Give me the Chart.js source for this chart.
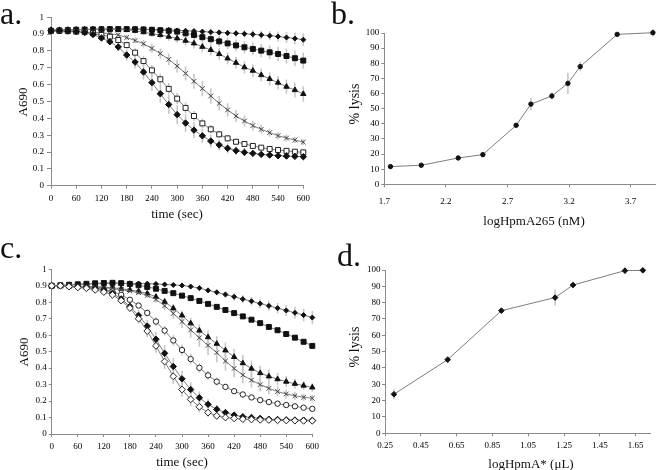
<!DOCTYPE html>
<html><head><meta charset="utf-8">
<script src="https://cdn.jsdelivr.net/npm/chart.js@4/dist/chart.umd.min.js"></script>
<style>
html,body{margin:0;padding:0;background:#fff;overflow:hidden;}
#wrap{position:relative;width:656px;height:470px;overflow:hidden;background:#fff;}
canvas{position:absolute;}
.lbl{position:absolute;font-family:"Liberation Serif","Times New Roman",serif;color:#111;white-space:nowrap;line-height:1;}
.panel{font-size:32px;}
.ttl{font-size:13px;transform:translate(-50%,-50%);}
.ttl.v{transform:translate(-50%,-50%) rotate(-90deg);}
.ttl.big{font-size:14px;}
</style></head>
<body><div id="wrap">
<canvas id="ca" style="left:0;top:0" width="330" height="235"></canvas>
<canvas id="cb" style="left:330px;top:0" width="360" height="235"></canvas>
<canvas id="cc" style="left:0;top:235px" width="330" height="235"></canvas>
<canvas id="cd" style="left:330px;top:235px" width="326" height="235"></canvas>
<div class="lbl panel" style="left:0;top:-3.5px">a.</div>
<div class="lbl panel" style="left:331px;top:-2.8px">b.</div>
<div class="lbl panel" style="left:0;top:231px">c.</div>
<div class="lbl panel" style="left:337px;top:239px">d.</div>
<div class="lbl ttl v" style="left:22px;top:102px">A690</div>
<div class="lbl ttl" style="left:177px;top:213px">time (sec)</div>
<div class="lbl ttl v big" style="left:355px;top:104px">% lysis</div>
<div class="lbl ttl" style="left:534px;top:220px">logHpmA265 (nM)</div>
<div class="lbl ttl v" style="left:23px;top:352px">A690</div>
<div class="lbl ttl" style="left:182px;top:461px">time (sec)</div>
<div class="lbl ttl v big" style="left:355px;top:347px">% lysis</div>
<div class="lbl ttl" style="left:531px;top:463px">logHpmA* (μL)</div>
</div>
<script>
// ---------- shared axis data ----------
const time = [0,20,40,60,80,100,120,140,160,180,200,220,240,260,280,300,320,340,360,380,400,420,440,460,480,500,520,540,560,580,600];
const timeTicks = [0,60,120,180,240,300,360,420,480,540,600];
const timeTickLabels = ['0','60','120','180','240','300','360','420','480','540','600'];
const a690Ticks = [0,0.1,0.2,0.3,0.4,0.5,0.6,0.7,0.8,0.9,1];
const a690TickLabels = ['0','0.1','0.2','0.3','0.4','0.5','0.6','0.7','0.8','0.9','1'];
const lysisTicks = [0,10,20,30,40,50,60,70,80,90,100];
const lysisTickLabels = ['0','10','20','30','40','50','60','70','80','90','100'];

// ---------- panel a ----------
const aSmallDiamond = [0.925,0.925,0.925,0.927,0.928,0.929,0.93,0.93,0.93,0.93,0.93,0.929,0.928,0.927,0.925,0.922,0.92,0.918,0.915,0.912,0.91,0.907,0.905,0.902,0.899,0.895,0.891,0.886,0.88,0.874,0.867];
const aSquare = [0.92,0.922,0.924,0.926,0.927,0.928,0.929,0.93,0.93,0.93,0.929,0.928,0.926,0.923,0.92,0.915,0.905,0.895,0.882,0.87,0.857,0.845,0.833,0.822,0.812,0.802,0.792,0.782,0.77,0.757,0.743];
const aTriangle = [0.925,0.925,0.926,0.927,0.928,0.929,0.93,0.93,0.928,0.925,0.92,0.912,0.903,0.895,0.885,0.875,0.861,0.845,0.825,0.806,0.782,0.756,0.73,0.703,0.683,0.657,0.634,0.612,0.588,0.568,0.545];
const aCross = [0.915,0.915,0.914,0.913,0.912,0.91,0.908,0.903,0.895,0.88,0.862,0.843,0.815,0.785,0.75,0.71,0.667,0.62,0.577,0.533,0.489,0.45,0.414,0.384,0.357,0.335,0.315,0.297,0.283,0.271,0.259];
const aOpenSquare = [0.92,0.92,0.918,0.915,0.912,0.905,0.895,0.885,0.865,0.835,0.79,0.74,0.685,0.632,0.575,0.517,0.462,0.414,0.37,0.335,0.305,0.281,0.261,0.248,0.236,0.226,0.218,0.212,0.207,0.202,0.198];
const aDiamond = [0.92,0.92,0.918,0.915,0.91,0.898,0.877,0.855,0.824,0.776,0.734,0.675,0.612,0.546,0.482,0.422,0.372,0.33,0.296,0.265,0.242,0.222,0.208,0.198,0.192,0.186,0.182,0.178,0.176,0.174,0.172];
const aSmallDiamondErr = [0.008,0.008,0.008,0.008,0.008,0.008,0.008,0.008,0.008,0.008,0.008,0.008,0.008,0.008,0.009,0.01,0.011,0.012,0.014,0.016,0.018,0.02,0.02,0.022,0.024,0.025,0.027,0.03,0.032,0.035,0.038];
const aSquareErr = [0.01,0.01,0.01,0.01,0.01,0.012,0.012,0.012,0.013,0.013,0.014,0.015,0.016,0.018,0.02,0.022,0.024,0.026,0.028,0.03,0.032,0.034,0.035,0.036,0.038,0.04,0.041,0.042,0.044,0.046,0.048];
const aTriangleErr = [0.01,0.01,0.01,0.01,0.01,0.012,0.012,0.013,0.014,0.015,0.016,0.018,0.02,0.022,0.024,0.026,0.028,0.03,0.032,0.033,0.034,0.035,0.036,0.036,0.037,0.038,0.039,0.04,0.042,0.044,0.046];
const aCrossErr = [0.008,0.008,0.008,0.008,0.008,0.009,0.01,0.012,0.014,0.016,0.018,0.022,0.026,0.03,0.034,0.038,0.042,0.045,0.046,0.045,0.043,0.04,0.036,0.032,0.029,0.026,0.024,0.022,0.02,0.018,0.017];
const aOpenSquareErr = [0.008,0.008,0.008,0.008,0.008,0.01,0.012,0.014,0.018,0.022,0.026,0.03,0.032,0.034,0.035,0.034,0.032,0.03,0.028,0.025,0.022,0.02,0.018,0.016,0.015,0.014,0.013,0.012,0.012,0.011,0.011];
const aDiamondErr = [0.008,0.008,0.008,0.008,0.01,0.012,0.015,0.02,0.026,0.032,0.038,0.044,0.05,0.054,0.056,0.055,0.052,0.048,0.043,0.038,0.033,0.029,0.025,0.022,0.02,0.018,0.016,0.015,0.014,0.013,0.012];

// ---------- panel b ----------
const bLogConc = [1.75,2.0,2.3,2.5,2.77,2.89,3.06,3.19,3.29,3.59,3.88];
const bLysis = [11.7,12.6,17.4,19.6,39.0,53.0,58.4,66.7,77.8,99.1,100.2];
const bLysisErr = [1.0,1.0,0.8,0.8,1.0,4.0,2.5,7.0,3.0,0.8,2.5];
const bTicks = [1.7,2.2,2.7,3.2,3.7];
const bTickLabels = ['1.7','2.2','2.7','3.2','3.7'];

// ---------- panel c ----------
const cSmallDiamond = [0.9,0.902,0.905,0.908,0.91,0.912,0.914,0.915,0.915,0.915,0.914,0.913,0.911,0.908,0.905,0.902,0.895,0.886,0.872,0.86,0.847,0.833,0.819,0.806,0.792,0.778,0.764,0.75,0.736,0.722,0.707];
const cSquare = [0.9,0.903,0.906,0.909,0.912,0.915,0.917,0.918,0.916,0.911,0.903,0.893,0.882,0.869,0.855,0.84,0.825,0.808,0.79,0.772,0.753,0.734,0.714,0.694,0.673,0.65,0.63,0.607,0.585,0.56,0.535];
const cTriangle = [0.9,0.899,0.898,0.897,0.896,0.895,0.892,0.888,0.882,0.875,0.866,0.853,0.833,0.803,0.763,0.72,0.672,0.628,0.588,0.548,0.508,0.468,0.43,0.397,0.37,0.35,0.333,0.318,0.305,0.294,0.283];
const cCross = [0.9,0.899,0.898,0.896,0.894,0.892,0.888,0.883,0.876,0.868,0.858,0.842,0.817,0.778,0.732,0.683,0.632,0.584,0.538,0.494,0.443,0.398,0.358,0.327,0.3,0.277,0.258,0.243,0.232,0.223,0.217];
const cOpenCircle = [0.9,0.9,0.897,0.894,0.89,0.885,0.877,0.865,0.845,0.815,0.78,0.735,0.683,0.628,0.568,0.51,0.455,0.402,0.356,0.318,0.286,0.26,0.24,0.222,0.206,0.194,0.184,0.176,0.168,0.16,0.153];
const cDiamond = [0.9,0.9,0.895,0.893,0.89,0.885,0.875,0.855,0.82,0.775,0.72,0.655,0.575,0.49,0.41,0.335,0.27,0.22,0.18,0.15,0.13,0.115,0.105,0.1,0.095,0.09,0.088,0.086,0.085,0.084,0.083];
const cOpenDiamond = [0.9,0.9,0.895,0.89,0.885,0.875,0.862,0.845,0.81,0.765,0.7,0.625,0.535,0.44,0.35,0.27,0.21,0.165,0.13,0.11,0.1,0.095,0.09,0.088,0.086,0.085,0.083,0.082,0.081,0.08,0.08];
const cSmallDiamondErr = [0.005,0.005,0.005,0.005,0.005,0.005,0.005,0.005,0.006,0.006,0.007,0.008,0.009,0.01,0.011,0.012,0.013,0.014,0.016,0.018,0.02,0.022,0.024,0.026,0.028,0.03,0.032,0.034,0.036,0.038,0.04];
const cSquareErr = [0.004,0.004,0.004,0.004,0.004,0.005,0.005,0.005,0.006,0.006,0.007,0.007,0.008,0.008,0.009,0.009,0.01,0.01,0.011,0.011,0.012,0.012,0.012,0.013,0.013,0.013,0.014,0.014,0.015,0.015,0.016];
const cTriangleErr = [0.005,0.005,0.005,0.005,0.005,0.006,0.006,0.007,0.008,0.01,0.012,0.015,0.018,0.022,0.026,0.03,0.034,0.038,0.042,0.046,0.048,0.05,0.05,0.048,0.045,0.042,0.038,0.034,0.03,0.027,0.025];
const cCrossErr = [0.005,0.005,0.005,0.005,0.005,0.006,0.006,0.007,0.008,0.01,0.013,0.016,0.02,0.026,0.032,0.04,0.048,0.055,0.06,0.06,0.058,0.054,0.05,0.045,0.04,0.035,0.03,0.027,0.024,0.022,0.02];
const cOpenCircleErr = [0.004,0.004,0.004,0.004,0.005,0.005,0.006,0.008,0.01,0.013,0.017,0.022,0.026,0.03,0.032,0.033,0.032,0.03,0.027,0.024,0.02,0.017,0.015,0.013,0.011,0.01,0.009,0.008,0.008,0.007,0.007];
const cDiamondErr = [0.004,0.004,0.004,0.005,0.005,0.006,0.008,0.012,0.018,0.025,0.032,0.038,0.044,0.048,0.05,0.048,0.044,0.038,0.031,0.025,0.02,0.016,0.013,0.011,0.009,0.008,0.007,0.006,0.006,0.005,0.005];
const cOpenDiamondErr = [0.004,0.004,0.004,0.005,0.005,0.006,0.008,0.012,0.018,0.024,0.03,0.036,0.042,0.046,0.048,0.046,0.04,0.032,0.025,0.019,0.015,0.012,0.01,0.008,0.007,0.006,0.006,0.005,0.005,0.005,0.005];

// ---------- panel d ----------
const dLogVol = [0.30,0.60,0.90,1.20,1.30,1.59,1.69];
const dLysis = [23.9,45.1,75.1,83.1,90.8,99.6,99.8];
const dLysisErr = [3.0,1.0,1.0,5.0,2.0,2.0,1.0];
const dTicks = [0.25,0.45,0.65,0.85,1.05,1.25,1.45,1.65];
const dTickLabels = ['0.25','0.45','0.65','0.85','1.05','1.25','1.45','1.65'];

// ---------- helpers ----------
const FONT = '"Liberation Serif","Times New Roman",serif';
const AXIS = '#8a8a8a';
const INK = '#111';

const errorBars = {
  id: 'errorBars',
  beforeDatasetsDraw(chart) {
    const ctx = chart.ctx, xs = chart.scales.x, ys = chart.scales.y;
    chart.data.datasets.forEach(ds => {
      if (!ds.errors) return;
      ctx.save();
      ctx.strokeStyle = '#c6c6c6';
      ctx.lineWidth = 1.6;
      ds.data.forEach((p, i) => {
        const e = ds.errors[i];
        if (!e) return;
        const x = xs.getPixelForValue(p.x);
        ctx.beginPath();
        ctx.moveTo(x, ys.getPixelForValue(p.y - e));
        ctx.lineTo(x, ys.getPixelForValue(p.y + e));
        ctx.stroke();
      });
      ctx.restore();
    });
  }
};

function axis(min, max, ticks, labels, o) {
  return {
    type: 'linear', min, max,
    afterBuildTicks: s => { s.ticks = ticks.map(v => ({value: v})); },
    afterFit: s => { if (o.w !== undefined) s.width = o.w; if (o.h !== undefined) s.height = o.h; },
    ticks: {
      callback: (v, i) => labels[i],
      font: {family: FONT, size: 9}, color: '#000',
      padding: o.pad, maxRotation: 0, minRotation: 0, autoSkip: false
    },
    grid: {drawOnChartArea: false, drawTicks: true, tickLength: o.tl, color: AXIS, lineWidth: 1},
    border: {color: AXIS, width: 1}
  };
}

const STY = {
  smallDiamond: {pointStyle: 'rectRot', pointRadius: 2.5, pointBackgroundColor: INK, pointBorderColor: INK, pointBorderWidth: 1},
  square: {pointStyle: 'rect', pointRadius: 3.5, pointBackgroundColor: INK, pointBorderColor: INK, pointBorderWidth: 1},
  triangle: {pointStyle: 'triangle', pointRadius: 3.1, pointBackgroundColor: INK, pointBorderColor: INK, pointBorderWidth: 1},
  cross: {pointStyle: 'crossRot', pointRadius: 3.3, pointBackgroundColor: '#444', pointBorderColor: '#444', pointBorderWidth: 1},
  openSquare: {pointStyle: 'rect', pointRadius: 3.5, pointBackgroundColor: '#fff', pointBorderColor: '#222', pointBorderWidth: 1},
  diamond: {pointStyle: 'rectRot', pointRadius: 3.2, pointBackgroundColor: INK, pointBorderColor: INK, pointBorderWidth: 1},
  openCircle: {pointStyle: 'circle', pointRadius: 2.7, pointBackgroundColor: '#fff', pointBorderColor: '#222', pointBorderWidth: 1},
  openDiamond: {pointStyle: 'rectRot', pointRadius: 3.4, pointBackgroundColor: '#fff', pointBorderColor: '#222', pointBorderWidth: 1},
  dot: {pointStyle: 'circle', pointRadius: 2.2, pointBackgroundColor: INK, pointBorderColor: INK, pointBorderWidth: 1},
  smallDiamondD: {pointStyle: 'rectRot', pointRadius: 2.8, pointBackgroundColor: INK, pointBorderColor: INK, pointBorderWidth: 1}
};

function series(xv, yv, ev, style) {
  return Object.assign({
    data: xv.map((x, i) => ({x: x, y: yv[i]})),
    errors: ev, showLine: true, borderColor: '#7d7d7d', borderWidth: 1,
    tension: 0, clip: false, pointHoverRadius: 0
  }, STY[style]);
}

function makeChart(id, datasets, xAxis, yAxis, padding) {
  return new Chart(document.getElementById(id), {
    type: 'scatter',
    data: {datasets},
    options: {
      responsive: false, animation: false, devicePixelRatio: 1,
      layout: {padding},
      plugins: {legend: {display: false}, tooltip: {enabled: false}},
      events: [],
      scales: {x: xAxis, y: yAxis}
    },
    plugins: [errorBars]
  });
}

// panel a
makeChart('ca', [
  series(time, aDiamond, aDiamondErr, 'diamond'),
  series(time, aOpenSquare, aOpenSquareErr, 'openSquare'),
  series(time, aCross, aCrossErr, 'cross'),
  series(time, aTriangle, aTriangleErr, 'triangle'),
  series(time, aSquare, aSquareErr, 'square'),
  series(time, aSmallDiamond, aSmallDiamondErr, 'smallDiamond')
],
  axis(0, 600, timeTicks, timeTickLabels, {h: 49.3, tl: 3, pad: 5}),
  axis(0, 1, a690Ticks, a690TickLabels, {w: 51, tl: 4, pad: 3}),
  {left: 0, top: 17.3, right: 26.7, bottom: 0});

// panel b
makeChart('cb', [
  series(bLogConc, bLysis, bLysisErr, 'dot')
],
  axis(1.7, 4.1, bTicks, bTickLabels, {h: 50.7, tl: 3, pad: 9}),
  axis(0, 100, lysisTicks, lysisTickLabels, {w: 54.3, tl: 3, pad: 2}),
  {left: 0, top: 33, right: 10, bottom: 0});

// panel c
makeChart('cc', [
  series(time, cOpenDiamond, cOpenDiamondErr, 'openDiamond'),
  series(time, cDiamond, cDiamondErr, 'diamond'),
  series(time, cOpenCircle, cOpenCircleErr, 'openCircle'),
  series(time, cCross, cCrossErr, 'cross'),
  series(time, cTriangle, cTriangleErr, 'triangle'),
  series(time, cSquare, cSquareErr, 'square'),
  series(time, cSmallDiamond, cSmallDiamondErr, 'smallDiamond')
],
  axis(0, 600, timeTicks, timeTickLabels, {h: 36, tl: 3, pad: 4}),
  axis(0, 1, a690Ticks, a690TickLabels, {w: 51.7, tl: 3, pad: 2}),
  {left: 0, top: 34.3, right: 17.7, bottom: 0});

// panel d
makeChart('cd', [
  series(dLogVol, dLysis, dLysisErr, 'smallDiamondD')
],
  axis(0.25, 1.73, dTicks, dTickLabels, {h: 36.7, tl: 3, pad: 4}),
  axis(0, 100, lysisTicks, lysisTickLabels, {w: 55, tl: 3, pad: 1.5}),
  {left: 0, top: 35, right: 6, bottom: 0});
</script>
</body></html>
